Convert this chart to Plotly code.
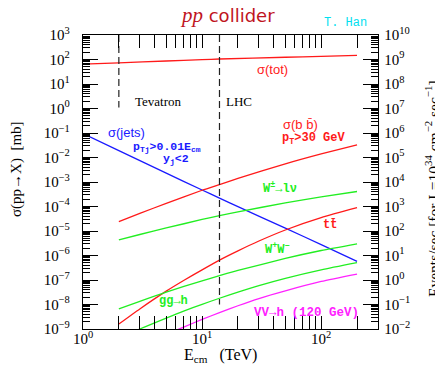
import plotly.graph_objects as go

# ---------------- data (sigma in mb, E in TeV) ----------------
E_tot = [1, 2, 5, 10, 14, 50, 100, 200]
sig_tot = [64.6, 73.3, 86.7, 98.4, 104.7, 123.6, 135.3, 148.0]

E_jets = [1, 2, 5, 10, 14, 20, 50, 100, 200]
sig_jets = [9.5e-2, 1.9e-2, 2.3e-3, 4.7e-4, 2.2e-4, 9.8e-5, 1.3e-5, 2.8e-6, 5.8e-7]

E_bb = [2, 3, 5, 10, 14, 20, 50, 100, 200]
sig_bb = [2.4e-5, 5.2e-5, 1.35e-4, 4.6e-4, 7.9e-4, 1.4e-3, 5.5e-3, 1.4e-2, 3.3e-2]

E_W = [2, 3, 5, 10, 14, 20, 50, 100, 200]
sig_W = [4.3e-6, 7.2e-6, 1.33e-5, 2.95e-5, 4.2e-5, 6.0e-5, 1.41e-4, 2.45e-4, 4.1e-4]

E_tt = [2, 3, 5, 7, 10, 14, 20, 30, 50, 100, 200]
sig_tt = [1.6e-9, 6.6e-9, 3.5e-8, 9.5e-8, 2.6e-7, 6.5e-7, 1.55e-6, 3.9e-6, 1.1e-5, 3.5e-5, 8.9e-5]

E_WW = [2, 3, 5, 10, 14, 20, 50, 100, 200]
sig_WW = [6.6e-9, 1.35e-8, 3.2e-8, 9.3e-8, 1.5e-7, 2.45e-7, 7.6e-7, 1.6e-6, 3.0e-6]

E_ggh = [2, 3, 5, 7, 10, 14, 20, 30, 50, 100, 200]
sig_ggh = [4.1e-10, 1.0e-9, 2.8e-9, 5.4e-9, 1.02e-8, 1.8e-8, 3.2e-8, 5.9e-8, 1.17e-7, 2.6e-7, 5.1e-7]

E_VVh = [2, 3, 5, 7, 10, 14, 20, 30, 50, 100, 200]
sig_VVh = [6.3e-11, 1.7e-10, 5.8e-10, 1.2e-9, 2.45e-9, 4.7e-9, 8.9e-9, 1.74e-8, 3.6e-8, 8.7e-8, 1.74e-7]

# collider energies (TeV) and dashed-line extents (mb)
E_tevatron = 2
E_lhc = 14
tev_line_y = [1e3, 1.1e0]
lhc_line_y = [1e3, 1e-8]

# events/sec = sigma[mb] * 1e-27 cm^2 * 1e34 cm^-2 s^-1
lumi_factor = 1e7

left_exps = list(range(-9, 4))
right_exps = list(range(-2, 11))
x_exps = [0, 1, 2]

RED = "#ff1a1a"
GREEN = "#22ee22"
BLUE = "#1a1aff"
MAG = "#ff22ff"

SERIF = "Liberation Serif"
SANS = "Liberation Sans"
MONO = "Liberation Mono"


def pw(e):
    s = str(e).replace("-", "\u2212")
    return "10<sup>" + s + "</sup>"


def minors(lo, hi):
    out = []
    for n in range(lo, hi):
        for k in range(2, 10):
            out.append(k * 10 ** n)
    return out


fig = go.Figure()

curves = [
    (E_tot, sig_tot, RED),
    (E_jets, sig_jets, BLUE),
    (E_bb, sig_bb, RED),
    (E_W, sig_W, GREEN),
    (E_tt, sig_tt, RED),
    (E_WW, sig_WW, GREEN),
    (E_ggh, sig_ggh, GREEN),
    (E_VVh, sig_VVh, MAG),
]
for ex, ey, col in curves:
    fig.add_trace(go.Scatter(x=ex, y=ey, mode="lines",
                             line=dict(color=col, width=1.3, shape="spline", smoothing=0.6),
                             showlegend=False, hoverinfo="skip"))

# dashed collider lines
fig.add_trace(go.Scatter(x=[E_tevatron, E_tevatron], y=tev_line_y, mode="lines",
                         line=dict(color="#222", width=1.2, dash="7px,4px"), showlegend=False, hoverinfo="skip"))
fig.add_trace(go.Scatter(x=[E_lhc, E_lhc], y=lhc_line_y, mode="lines",
                         line=dict(color="#222", width=1.2, dash="7px,4px"), showlegend=False, hoverinfo="skip"))

# invisible trace on the events/sec axis
fig.add_trace(go.Scatter(x=E_tot, y=[s * lumi_factor for s in sig_tot], yaxis="y2", mode="lines",
                         line=dict(color="rgba(0,0,0,0)"), showlegend=False, hoverinfo="skip"))

# page body has an 8px margin; the figure is sized so the plot lands where the reference's does
OFF = 8
W, H = 443 - OFF, 367 - OFF
L, R, T, B = 83, 378, 35, 329   # plot area in window pixels


def px(x):
    return (x - L) / (R - L)


def py(y):
    return (B - y) / (B - T)


annots = [
    # (text, x, y, xanchor, color, family, size)
    ("\u03c3(tot)", 272, 69, "center", RED, SANS, 13),
    ("Tevatron", 158, 101, "center", "black", SERIF, 13),
    ("LHC", 239, 101, "center", "black", SERIF, 13),
    ("\u03c3(b b\u0304)", 281, 124, "left", RED, SANS, 13),
    ("<b>p<sub>T</sub>&gt;30 GeV</b>", 280, 139, "left", RED, MONO, 12),
    ("\u03c3(jets)", 106, 132, "left", BLUE, SANS, 13),
    ("<b>p<sub>Tj</sub>&gt;0.01E<sub>cm</sub></b>", 131, 147, "left", BLUE, MONO, 11.5),
    ("<b>y<sub>j</sub>&lt;2</b>", 161, 159, "left", BLUE, MONO, 11.5),
    ("<b>W<sup>\u00b1</sup>\u2192l\u03bd</b>", 261, 188, "left", GREEN, MONO, 12),
    ("<b>tt\u0304</b>", 321, 225, "left", RED, MONO, 12),
    ("<b>W<sup>+</sup>W<sup>\u2212</sup></b>", 263, 249, "left", GREEN, MONO, 12),
    ("<b>gg\u2192h</b>", 157, 301, "left", GREEN, MONO, 12),
    ("<b>VV\u2192h (120 GeV)</b>", 252, 313, "left", MAG, MONO, 12.5),
]
for text, x, y, xa, col, fam, size in annots:
    fig.add_annotation(text=text, x=px(x), y=py(y), xref="paper", yref="paper", xanchor=xa, yanchor="middle",
                       showarrow=False, font=dict(color=col, family=fam, size=size))

# title
fig.add_annotation(text="<span style='font-family:Liberation Serif;font-size:21px'><i>pp</i></span> collider",
                   x=px(227), y=py(15), xref="paper", yref="paper", xanchor="center",
                   yanchor="middle", showarrow=False, font=dict(color="#c0141e", family="DejaVu Sans", size=18))
fig.add_annotation(text="T. Han", x=px(345), y=py(23), xref="paper", yref="paper", xanchor="center",
                   yanchor="middle", showarrow=False, font=dict(color="#00e0f0", family=MONO, size=12))

# axis titles
fig.add_annotation(text="\u03c3(pp\u2192X)  [mb]", x=px(17), y=py(169), xref="paper", yref="paper",
                   xanchor="center", yanchor="middle", textangle=-90, showarrow=False,
                   font=dict(color="black", family=SERIF, size=15))
fig.add_annotation(text="Events/sec [for L=10<sup>34</sup> cm<sup>\u22122</sup> sec<sup>\u22121</sup>]",
                   x=px(432), y=py(189), xref="paper", yref="paper",
                   xanchor="center", yanchor="middle", textangle=-90, showarrow=False,
                   font=dict(color="black", family=SERIF, size=15.5))
fig.add_annotation(text="E<sub>cm</sub>   (TeV)", x=px(220), y=py(355), xref="paper", yref="paper",
                   xanchor="center", yanchor="middle", showarrow=False,
                   font=dict(color="black", family=SERIF, size=16))

tickfont = dict(family=SERIF, size=15, color="black")

fig.update_layout(
    width=W, height=H,
    margin=dict(l=L - OFF, r=443 - R, t=T - OFF, b=367 - B, pad=0, autoexpand=False),
    paper_bgcolor="white", plot_bgcolor="white",
    xaxis=dict(type="log", range=[0, 2.4771], showgrid=False, zeroline=False, automargin=False,
               showline=True, linecolor="black", linewidth=1.3, mirror="allticks",
               ticks="inside", ticklen=13, tickwidth=1.2, tickcolor="black",
               tickmode="array", tickvals=[10 ** e for e in x_exps], ticktext=[pw(e) for e in x_exps],
               tickfont=tickfont, ticklabelstandoff=-4,
               minor=dict(ticks="inside", ticklen=6, tickwidth=1, tickcolor="black", tickmode="array",
                          tickvals=minors(0, 3), showgrid=False)),
    yaxis=dict(type="log", range=[-9, 3], showgrid=False, zeroline=False, automargin=False,
               showline=True, linecolor="black", linewidth=1.3, mirror=False,
               ticks="inside", ticklen=15, tickwidth=1.2, tickcolor="black",
               tickmode="array", tickvals=[10 ** e for e in left_exps], ticktext=[pw(e) for e in left_exps],
               tickfont=tickfont, ticklabelstandoff=9,
               minor=dict(ticks="inside", ticklen=7, tickwidth=1, tickcolor="black", tickmode="array",
                          tickvals=minors(-9, 3), showgrid=False)),
    yaxis2=dict(type="log", range=[-2, 10], overlaying="y", side="right", anchor="x",
                showgrid=False, zeroline=False, automargin=False,
                showline=True, linecolor="black", linewidth=1.3,
                ticks="inside", ticklen=15, tickwidth=1.2, tickcolor="black",
                tickmode="array", tickvals=[10 ** e for e in right_exps], ticktext=[pw(e) for e in right_exps],
                tickfont=tickfont, ticklabelstandoff=2,
                minor=dict(ticks="inside", ticklen=7, tickwidth=1, tickcolor="black", tickmode="array",
                           tickvals=minors(-2, 10), showgrid=False)),
)

fig.write_html("out.html")
